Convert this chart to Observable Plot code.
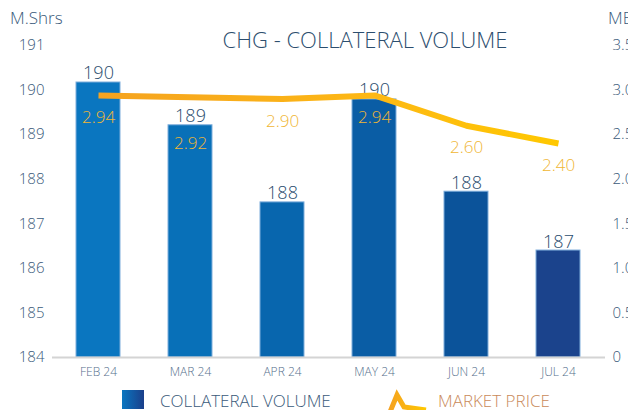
<!DOCTYPE html>
<html>
<head>
<meta charset="utf-8">
<script src="https://cdn.jsdelivr.net/npm/d3@7"></script>
<script src="https://cdn.jsdelivr.net/npm/@observablehq/plot@0.6"></script>
<style>
  html, body { margin: 0; padding: 0; background: #fff; }
  #wrap { position: relative; width: 628px; height: 410px; overflow: hidden; font-family: "Open Sans", sans-serif; font-weight: 300; }
  .abs { position: absolute; white-space: nowrap; }
  svg text { font-weight: 300; }
</style>
</head>
<body>
<div id="wrap">
  <div id="chart" class="abs" style="left:0;top:0;"></div>
  <div class="abs" style="left:10px;top:6px;font-size:17px;color:#3a5a7a;">M.Shrs</div>
  <div class="abs" style="left:608px;top:6px;font-size:17px;color:#3a5a7a;">ME</div>
  <div class="abs" style="left:100px;width:530px;top:24px;text-align:center;font-size:22px;color:#2c4e6e;">CHG - COLLATERAL VOLUME</div>
  <div id="legend" class="abs" style="left:0;top:388px;width:628px;height:22px;"></div>
</div>
<script>
const months = ["FEB 24", "MAR 24", "APR 24", "MAY 24", "JUN 24", "JUL 24"];
const volume = [190.17, 189.21, 187.48, 189.79, 187.72, 186.40];
const volumeLabels = ["190", "189", "188", "190", "188", "187"];
const price = [2.94, 2.92, 2.90, 2.94, 2.60, 2.40];
const priceLabels = ["2.94", "2.92", "2.90", "2.94", "2.60", "2.40"];
const leftTicks = [184, 185, 186, 187, 188, 189, 190, 191];
const rightTicks = [0, 0.5, 1.0, 1.5, 2.0, 2.5, 3.0, 3.5];
const barColors = ["#0a76c0", "#0870b8", "#0866ae", "#0a5da5", "#0b539a", "#1b438c"];

const base = 184;
const toLeft = v => base + 2 * v;
const data = months.map((m, i) => ({month: m, volume: volume[i], vLabel: volumeLabels[i], price: price[i], pLabel: priceLabels[i]}));

// price label sits below the line; when the bar's own label would collide with it, it drops inside the bar
const priceLabelY = d => {
  const p = toLeft(d.price);
  const gap = p - d.volume;
  return (gap > 0 && gap < 0.9) ? d.volume - 0.40 : p - 0.50;
};

const chart = Plot.plot({
  width: 628,
  height: 380,
  marginTop: 45,
  marginBottom: 23,
  marginLeft: 52,
  marginRight: 23,
  style: {fontFamily: "Open Sans, sans-serif", background: "transparent"},
  x: {domain: months, paddingInner: 0.52, paddingOuter: 0.26, axis: null},
  y: {domain: [184, 191], axis: null},
  color: {domain: months, range: barColors},
  marks: [
    Plot.axisY(leftTicks, {anchor: "left", tickSize: 0, tickPadding: 8, label: null, fontSize: 15, fill: "#3a5a7a"}),
    Plot.axisY(rightTicks.map(toLeft), {anchor: "right", tickSize: 0, tickPadding: 7, label: null, fontSize: 15, fill: "#3a5a7a",
      tickFormat: d => { const v = (d - base) / 2; return v === 0 ? "0" : v.toFixed(1); }}),
    Plot.axisX({tickSize: 0, tickPadding: 10, label: null, fontSize: 12, fill: "#556f8c"}),
    Plot.barY(data, {x: "month", y1: base, y2: "volume", fill: "month", stroke: "#7eaedb", strokeWidth: 1}),
    Plot.ruleY([base], {stroke: "#d4d4d4", strokeWidth: 2}),
    Plot.text(data, {x: "month", y: "volume", text: "vLabel", lineAnchor: "bottom", dy: -3, fontSize: 18, fill: "#2b4d6e"}),
    Plot.line(data, {x: "month", y: d => toLeft(d.price), stroke: "url(#mpGrad)", strokeWidth: 6, strokeLinejoin: "round", strokeLinecap: "butt"}),
    Plot.text(data, {x: "month", y: priceLabelY, text: "pLabel", lineAnchor: "middle", fontSize: 17, fill: "#f0b634"})
  ]
});

const ns = "http://www.w3.org/2000/svg";
const defs = document.createElementNS(ns, "defs");
defs.innerHTML = '<linearGradient id="mpGrad" x1="0" x2="1" y1="0" y2="0"><stop offset="0" stop-color="#f5a320"/><stop offset="0.6" stop-color="#fdb814"/><stop offset="1" stop-color="#ffc800"/></linearGradient>';
chart.insertBefore(defs, chart.firstChild);
document.getElementById("chart").appendChild(chart);

document.getElementById("legend").innerHTML = `
<svg width="628" height="22" style="position:absolute;left:0;top:0;font-family:'Open Sans',sans-serif;">
  <defs>
    <linearGradient id="lgBar" x1="0" x2="1"><stop offset="0" stop-color="#0a76c0"/><stop offset="1" stop-color="#1b3f8a"/></linearGradient>
    <linearGradient id="lgLine" x1="0" x2="1"><stop offset="0" stop-color="#f5a320"/><stop offset="1" stop-color="#ffc800"/></linearGradient>
  </defs>
  <rect x="122" y="2" width="22" height="19" fill="url(#lgBar)"/>
  <text x="160" y="12" dominant-baseline="central" font-size="17" fill="#3a5a7a">COLLATERAL VOLUME</text>
  <polyline points="390,24 397,7 404,19 426,22" fill="none" stroke="url(#lgLine)" stroke-width="5" stroke-linejoin="miter"/>
  <text x="438" y="12" dominant-baseline="central" font-size="17" fill="#c98a5a">MARKET PRICE</text>
</svg>`;
</script>
</body>
</html>
